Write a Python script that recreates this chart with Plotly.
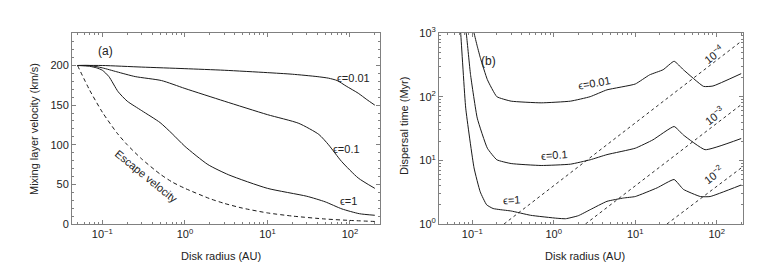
import plotly.graph_objects as go
import math

# ---------------- Data: panel (a) mixing layer velocity (km/s) ----------------
r_a001 = [0.05, 0.1, 0.3, 1, 3, 10, 20, 40, 55, 70, 90, 126, 160, 200]
v_a001 = [200, 200, 198, 196, 194, 191, 189, 186, 184, 181, 174, 165, 157, 150]

r_a01 = [0.05, 0.07, 0.1, 0.15, 0.25, 0.52, 1, 3, 10, 24, 42, 55, 79, 126, 200]
v_a01 = [200, 200, 197, 192, 186, 181, 171, 155, 138, 127, 113, 100, 79, 58, 45]

r_a1 = [0.05, 0.07, 0.085, 0.1, 0.12, 0.155, 0.2, 0.3, 0.5, 0.7, 1, 1.9, 3.4, 10, 30, 50, 80, 130, 200]
v_a1 = [200, 199, 197, 194, 186, 167, 155, 143, 128, 114, 98, 75, 62, 45, 35, 28, 19, 13, 11]

r_esc = [0.05, 0.07, 0.1, 0.15, 0.2, 0.3, 0.5, 0.7, 1, 2, 3, 5, 10, 20, 50, 100, 200]
v_esc = [200, 169, 141, 115, 100, 82, 63, 53, 45, 32, 26, 20, 14, 10, 6.3, 4.5, 3.2]

# ---------------- Data: panel (b) dispersal time (Myr) ----------------
r_b001 = [0.1, 0.105, 0.115, 0.126, 0.153, 0.2, 0.3, 0.7, 1.6, 2.8, 4.5, 10, 15, 22, 30, 39, 69, 90, 200]
t_b001 = [1400, 1000, 620, 400, 185, 100, 85, 80, 85, 100, 128, 158, 220, 265, 360, 265, 145, 147, 230]

r_b01 = [0.08, 0.085, 0.095, 0.115, 0.153, 0.2, 0.3, 0.7, 1.6, 2.8, 4.5, 10, 16.5, 30, 39, 72, 200]
t_b01 = [1600, 900, 224, 46, 15.5, 10.2, 8.9, 8.3, 8.7, 10.2, 12.3, 15.5, 21, 34, 25, 14.7, 22]

r_b1 = [0.07, 0.072, 0.083, 0.105, 0.125, 0.15, 0.18, 0.22, 0.3, 0.52, 1.1, 1.4, 2, 2.8, 4.5, 7.2, 10, 18.6, 30, 39, 63, 83, 200]
t_b1 = [1500, 1000, 66, 7.6, 3.2, 2.0, 1.75, 1.68, 1.6, 1.37, 1.23, 1.21, 1.35, 1.68, 2.27, 2.56, 2.7, 3.7, 5.0, 3.5, 2.7, 2.7, 4.1]

r_d4 = [0.245, 200]
t_d4 = [1, 740]
r_d3 = [2.45, 200]
t_d3 = [1, 75]
r_d2 = [24.5, 200]
t_d2 = [1, 7.6]

xtick_vals = [0.1, 1, 10, 100]
xtick_text = ["10<sup>\u22121</sup>", "10<sup>0</sup>", "10<sup>1</sup>", "10<sup>2</sup>"]
ytick_vals_b = [1, 10, 100, 1000]
ytick_text_b = ["10<sup>0</sup>", "10<sup>1</sup>", "10<sup>2</sup>", "10<sup>3</sup>"]

minor_log = [m * 10 ** e for e in range(-2, 4) for m in range(2, 10)]

# ---------------- Figure ----------------
W, H = 763, 264
ML, MR, MT, MB = 64, 28, 25, 48
PW = W - ML - MR
PH = H - MT - MB

def px(p):
    return (p - ML) / PW

def py(p):
    return (H - MB - p) / PH

FONT = "Liberation Sans, Arial, Helvetica, sans-serif"
LC = "#1a1a1a"
FRAME = "#808080"

fig = go.Figure()

line = dict(color=LC, width=1)
dline = dict(color=LC, width=1, dash="4px,3px")
dline2 = dict(color=LC, width=0.9, dash="3px,3px")

for xs, ys in [(r_a001, v_a001), (r_a01, v_a01), (r_a1, v_a1)]:
    fig.add_trace(go.Scatter(x=xs, y=ys, mode="lines", line=dict(line, shape="spline", smoothing=0.6),
                             xaxis="x", yaxis="y", showlegend=False, hoverinfo="skip"))
fig.add_trace(go.Scatter(x=r_esc, y=v_esc, mode="lines", line=dict(dline, shape="spline", smoothing=0.6),
                         xaxis="x", yaxis="y", showlegend=False, hoverinfo="skip"))

for xs, ys in [(r_b001, t_b001), (r_b01, t_b01), (r_b1, t_b1)]:
    fig.add_trace(go.Scatter(x=xs, y=ys, mode="lines", line=dict(line, shape="spline", smoothing=0.4),
                             xaxis="x2", yaxis="y2", showlegend=False, hoverinfo="skip"))
for xs, ys in [(r_d4, t_d4), (r_d3, t_d3), (r_d2, t_d2)]:
    fig.add_trace(go.Scatter(x=xs, y=ys, mode="lines", line=dline2,
                             xaxis="x2", yaxis="y2", showlegend=False, hoverinfo="skip"))

axis_common = dict(showline=True, linecolor=FRAME, linewidth=1, mirror="ticks",
                   ticks="inside", ticklen=4, tickwidth=1, tickcolor=FRAME,
                   showgrid=False, zeroline=False,
                   tickfont=dict(family=FONT, size=11, color="#222"))

fig.update_layout(
    width=W, height=H,
    margin=dict(l=ML, r=MR, t=MT, b=MB),
    paper_bgcolor="white", plot_bgcolor="white",
    font=dict(family=FONT, size=11, color="#222"),
    xaxis=dict(axis_common, type="log", domain=[0, (372 - ML) / PW], range=[-1.368, 2.364],
               tickmode="array", tickvals=xtick_vals, ticktext=xtick_text, anchor="y",
               minor=dict(ticks="inside", ticklen=2, tickcolor=FRAME, tickmode="array", tickvals=minor_log)),
    yaxis=dict(axis_common, range=[0, 241], tickmode="linear", tick0=0, dtick=50, anchor="x",
               minor=dict(ticks="inside", ticklen=2, tickcolor=FRAME, dtick=10)),
    xaxis2=dict(axis_common, type="log", domain=[(431 - ML) / PW, 1], range=[-1.409, 2.323],
                tickmode="array", tickvals=xtick_vals, ticktext=xtick_text, anchor="y2",
                minor=dict(ticks="inside", ticklen=2, tickcolor=FRAME, tickmode="array", tickvals=minor_log)),
    yaxis2=dict(axis_common, type="log", range=[0, 3], tickmode="array",
                tickvals=ytick_vals_b, ticktext=ytick_text_b, anchor="x2",
                minor=dict(ticks="inside", ticklen=2, tickcolor=FRAME, tickmode="array", tickvals=minor_log)),
)

def ann(text, x, y, angle=0, size=11):
    fig.add_annotation(text=text, x=px(x), y=py(y), xref="paper", yref="paper",
                       showarrow=False, textangle=angle, xanchor="center", yanchor="middle",
                       font=dict(family=FONT, size=size, color="#222"))

EPS = "\u03f5"
ann("(a)", 97, 43, size=12)
ann(EPS + "=0.01", 345, 70)
ann(EPS + "=0.1", 338, 141)
ann(EPS + "=1", 340, 193)
ann("Escape velocity", 138, 168, angle=39)
ann("Mixing layer velocity (km/s)", 26, 121, angle=-90)
ann("Disk radius (AU)", 213, 248)

ann("(b)", 480, 53, size=12)
ann(EPS + "=0.01", 586, 75, angle=-10)
ann(EPS + "=0.1", 546, 147, angle=-4)
ann(EPS + "=1", 503, 192, angle=-4)
ann("10<sup>\u22124</sup>", 706, 46, angle=-38)
ann("10<sup>\u22123</sup>", 706, 108, angle=-38)
ann("10<sup>\u22122</sup>", 705, 167, angle=-38)
ann("Dispersal time (Myr)", 396, 118, angle=-90)
ann("Disk radius (AU)", 577, 248)

fig.write_html("out.html")
